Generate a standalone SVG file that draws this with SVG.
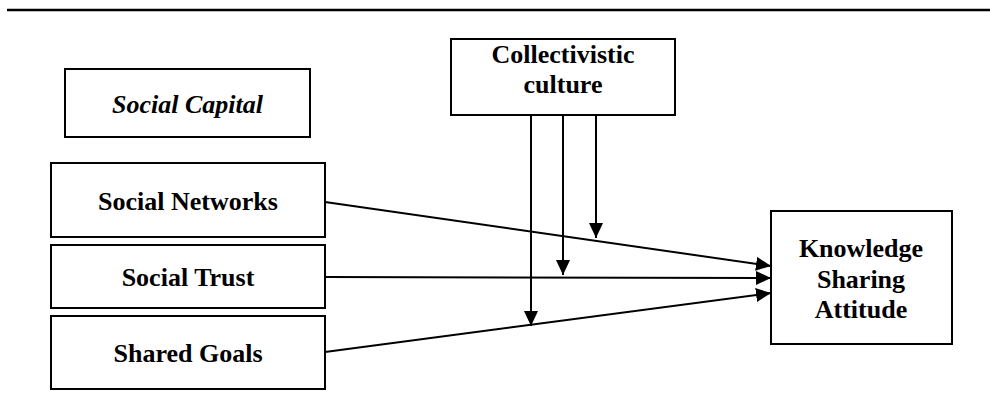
<svg xmlns="http://www.w3.org/2000/svg" width="990" height="400" viewBox="0 0 990 400">
<defs>
<marker id="ah" markerWidth="15" markerHeight="14" refX="15" refY="7" orient="auto" markerUnits="userSpaceOnUse">
<path d="M0,0 L15,7 L0,14 Z" fill="#000"/>
</marker>
<style>
.box{fill:#fff;stroke:#000;stroke-width:2}
.t{font-family:"Liberation Serif","Times New Roman",serif;font-size:26px;font-weight:bold;text-anchor:middle;fill:#000}
.it{font-style:italic}
.c{stroke:#000;stroke-width:2;fill:none}
</style>
</defs>
<line x1="7" y1="10" x2="990" y2="10" stroke="#000" stroke-width="2.5"/>
<g id="social-capital">
<rect class="box" x="65" y="69" width="245" height="68"/>
<text class="t it" x="187.5" y="113">Social Capital</text>
</g>
<g id="collectivistic-culture">
<rect class="box" x="451" y="39" width="224" height="76"/>
<text class="t" x="563" y="63">Collectivistic</text>
<text class="t" x="563" y="93">culture</text>
</g>
<g id="social-networks">
<rect class="box" x="51" y="163" width="274" height="74"/>
<text class="t" x="188" y="210">Social Networks</text>
</g>
<g id="social-trust">
<rect class="box" x="51" y="245" width="274" height="63"/>
<text class="t" x="188" y="286">Social Trust</text>
</g>
<g id="shared-goals">
<rect class="box" x="51" y="316" width="274" height="73"/>
<text class="t" x="188" y="362">Shared Goals</text>
</g>
<g id="knowledge-sharing-attitude">
<rect class="box" x="771" y="211" width="181" height="133"/>
<text class="t" x="861" y="257">Knowledge</text>
<text class="t" x="861" y="288">Sharing</text>
<text class="t" x="861" y="318">Attitude</text>
</g>
<g id="connectors">
<line class="c" x1="325" y1="202" x2="771" y2="266" marker-end="url(#ah)"/>
<line class="c" x1="325" y1="277" x2="771" y2="278" marker-end="url(#ah)"/>
<line class="c" x1="325" y1="352" x2="771" y2="293" marker-end="url(#ah)"/>
<line class="c" x1="596" y1="115" x2="596" y2="238" marker-end="url(#ah)"/>
<line class="c" x1="563" y1="115" x2="563" y2="275" marker-end="url(#ah)"/>
<line class="c" x1="531" y1="115" x2="531" y2="326" marker-end="url(#ah)"/>
</g>
</svg>
